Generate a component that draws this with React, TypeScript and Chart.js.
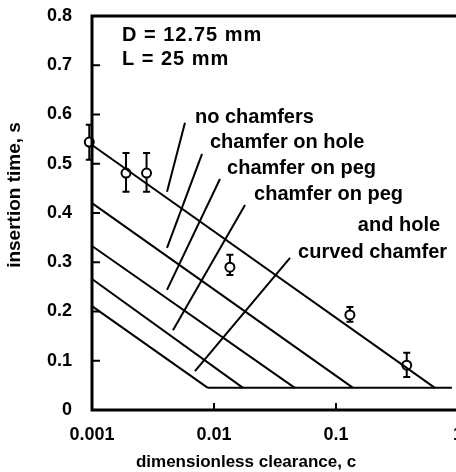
import { useEffect, useRef } from 'react';
import { Chart, registerables } from 'chart.js';

Chart.register(...registerables);

const FONT = '"Liberation Sans", Arial, Helvetica, sans-serif';

// axes
const X_TICKS = [0.001, 0.01, 0.1, 1];
const X_TICK_LABELS = ['0.001', '0.01', '0.1', '1'];
const X_MIN = 0.001;
const X_MAX = 1;
const Y_MIN = 0;
const Y_MAX = 0.8;
const Y_STEP = 0.1;
const X_TITLE = 'dimensionless clearance, c';
const Y_TITLE = 'insertion time, s';

// experimental points (no chamfers) with error bars
const EXP_C = [0.00095, 0.0019, 0.0028, 0.0135, 0.13, 0.38];
const EXP_T = [0.544, 0.481, 0.481, 0.29, 0.193, 0.091];
const EXP_LOW = [0.508, 0.443, 0.443, 0.274, 0.179, 0.067];
const EXP_HIGH = [0.579, 0.522, 0.522, 0.315, 0.209, 0.116];

// theoretical lines
const NO_CHAMFER_C = [0.001, 0.647];
const NO_CHAMFER_T = [0.538, 0.045];
const HOLE_C = [0.001, 0.138];
const HOLE_T = [0.42, 0.045];
const PEG_C = [0.001, 0.046];
const PEG_T = [0.333, 0.045];
const PEG_HOLE_C = [0.001, 0.0173];
const PEG_HOLE_T = [0.266, 0.045];
const CURVED_C = [0.001, 0.0089];
const CURVED_T = [0.211, 0.045];
const FLOOR_C = [0.0089, 0.89];
const FLOOR_T = [0.045, 0.045];

// leader lines (from label down to curve)
const LEADER_C = [
  [0.00578, 0.00412],
  [0.00798, 0.00412],
  [0.01119, 0.00412],
  [0.01795, 0.00461],
  [0.042, 0.00698],
];
const LEADER_T = [
  [0.583, 0.443],
  [0.52, 0.329],
  [0.469, 0.244],
  [0.416, 0.162],
  [0.309, 0.079],
];

// text labels (left edge, vertical middle), in data coordinates
const NOTE_TEXT = [
  'D = 12.75 mm',
  'L = 25 mm',
  'no chamfers',
  'chamfer on hole',
  'chamfer on peg',
  'chamfer on peg',
  'and hole',
  'curved chamfer',
];
const NOTE_C = [0.00176, 0.00176, 0.00698, 0.00927, 0.0128, 0.0213, 0.151, 0.0489];
const NOTE_T = [0.761, 0.711, 0.593, 0.544, 0.491, 0.437, 0.374, 0.319];

const pts = (xs: number[], ys: number[]) => xs.map((x, i) => ({ x, y: ys[i] }));

const lineDs = (xs: number[], ys: number[]) => ({
  data: pts(xs, ys),
  showLine: true,
  borderColor: '#000',
  borderWidth: 2,
  pointRadius: 0,
  fill: false,
  tension: 0,
  clip: false as any,
});

const decorPlugin = {
  id: 'decor',
  beforeDatasetsDraw(chart: any) {
    const { ctx } = chart;
    const xs = chart.scales.x;
    const ys = chart.scales.y;
    ctx.save();
    ctx.strokeStyle = '#000';
    ctx.lineWidth = 2;
    EXP_C.forEach((c, i) => {
      const px = xs.getPixelForValue(c);
      const lo = ys.getPixelForValue(EXP_LOW[i]);
      const hi = ys.getPixelForValue(EXP_HIGH[i]);
      ctx.beginPath();
      ctx.moveTo(px, lo);
      ctx.lineTo(px, hi);
      ctx.moveTo(px - 3.5, lo);
      ctx.lineTo(px + 3.5, lo);
      ctx.moveTo(px - 3.5, hi);
      ctx.lineTo(px + 3.5, hi);
      ctx.stroke();
    });
    ctx.restore();
  },
  afterDraw(chart: any) {
    const { ctx } = chart;
    const xs = chart.scales.x;
    const ys = chart.scales.y;
    const left = xs.getPixelForValue(X_MIN);
    const top = ys.getPixelForValue(Y_MAX);
    const bottom = ys.getPixelForValue(Y_MIN);
    const W = chart.width;
    ctx.save();
    ctx.strokeStyle = '#000';
    ctx.lineWidth = 3;
    ctx.lineCap = 'butt';
    ctx.beginPath();
    ctx.moveTo(W, top);
    ctx.lineTo(left, top);
    ctx.lineTo(left, bottom);
    ctx.lineTo(W, bottom);
    ctx.stroke();
    // inward ticks
    ctx.lineWidth = 2;
    ctx.beginPath();
    for (let v = Y_STEP; v < Y_MAX - 1e-9; v += Y_STEP) {
      const py = ys.getPixelForValue(v);
      ctx.moveTo(left, py);
      ctx.lineTo(left + 8, py);
    }
    X_TICKS.slice(1).forEach((v) => {
      const px = xs.getPixelForValue(v);
      ctx.moveTo(px, bottom);
      ctx.lineTo(px, bottom - 7);
    });
    ctx.stroke();

    // notes
    ctx.fillStyle = '#000';
    ctx.textAlign = 'left';
    ctx.textBaseline = 'middle';
    NOTE_TEXT.forEach((t, i) => {
      ctx.font = `bold 20px ${FONT}`;
      (ctx as any).letterSpacing = i < 2 ? '1px' : '0px';
      ctx.fillText(t, xs.getPixelForValue(NOTE_C[i]), ys.getPixelForValue(NOTE_T[i]));
    });
    (ctx as any).letterSpacing = '0px';

    // axis titles
    ctx.font = `bold 17px ${FONT}`;
    ctx.textAlign = 'center';
    ctx.fillText(X_TITLE, 246, 462);
    ctx.save();
    ctx.translate(15, 195);
    ctx.rotate(-Math.PI / 2);
    ctx.font = `bold 19px ${FONT}`;
    ctx.fillText(Y_TITLE, 0, 0);
    ctx.restore();
    ctx.restore();
  },
};

export default function App() {
  const ref = useRef<HTMLCanvasElement>(null);
  useEffect(() => {
    if (!ref.current) return;
    const chart = new Chart(ref.current, {
      type: 'scatter',
      data: {
        datasets: [
          lineDs(NO_CHAMFER_C, NO_CHAMFER_T),
          lineDs(HOLE_C, HOLE_T),
          lineDs(PEG_C, PEG_T),
          lineDs(PEG_HOLE_C, PEG_HOLE_T),
          lineDs(CURVED_C, CURVED_T),
          lineDs(FLOOR_C, FLOOR_T),
          ...LEADER_C.map((c, i) => lineDs(c, LEADER_T[i])),
          {
            data: pts(EXP_C, EXP_T),
            showLine: false,
            pointStyle: 'circle',
            pointRadius: 4.5,
            pointBorderWidth: 2,
            pointBackgroundColor: '#fff',
            pointBorderColor: '#000',
            clip: false as any,
          },
        ] as any,
      },
      options: {
        animation: false,
        responsive: true,
        maintainAspectRatio: false,
        layout: { padding: { top: 16, right: 12, left: 0, bottom: 0 } },
        plugins: {
          legend: { display: false },
          tooltip: { enabled: false },
        },
        scales: {
          x: {
            type: 'logarithmic',
            min: X_MIN,
            max: X_MAX,
            afterBuildTicks: (scale: any) => {
              scale.ticks = X_TICKS.map((value) => ({ value }));
            },
            afterFit: (scale: any) => {
              scale.height = 62;
              scale.paddingLeft = 0;
              scale.paddingRight = 0;
              scale.paddingTop = 0;
              scale.paddingBottom = 0;
            },
            grid: { display: false, drawTicks: false },
            border: { display: false },
            ticks: {
              color: '#000',
              font: { family: FONT, size: 18, weight: 'bold' },
              padding: 14,
              maxRotation: 0,
              autoSkip: false,
              callback: (v: any) => {
                const i = X_TICKS.findIndex((t) => Math.abs(t - Number(v)) < 1e-12);
                return i >= 0 ? X_TICK_LABELS[i] : '';
              },
            },
          },
          y: {
            type: 'linear',
            min: Y_MIN,
            max: Y_MAX,
            afterFit: (scale: any) => {
              scale.width = 92;
              scale.paddingLeft = 0;
              scale.paddingRight = 0;
              scale.paddingTop = 0;
              scale.paddingBottom = 0;
            },
            grid: { display: false, drawTicks: false },
            border: { display: false },
            ticks: {
              stepSize: Y_STEP,
              color: '#000',
              font: { family: FONT, size: 18, weight: 'bold' },
              padding: 20,
              callback: (v: any) => String(Math.round(Number(v) * 10) / 10),
            },
          },
        },
      } as any,
      plugins: [decorPlugin],
    });
    return () => chart.destroy();
  }, []);
  return (
    <div style={{ position: 'fixed', left: 0, top: 0, width: 456, height: 472, overflow: 'hidden', background: '#fff' }}>
      <div style={{ position: 'relative', width: 470, height: 472 }}>
        <canvas ref={ref} />
      </div>
    </div>
  );
}
